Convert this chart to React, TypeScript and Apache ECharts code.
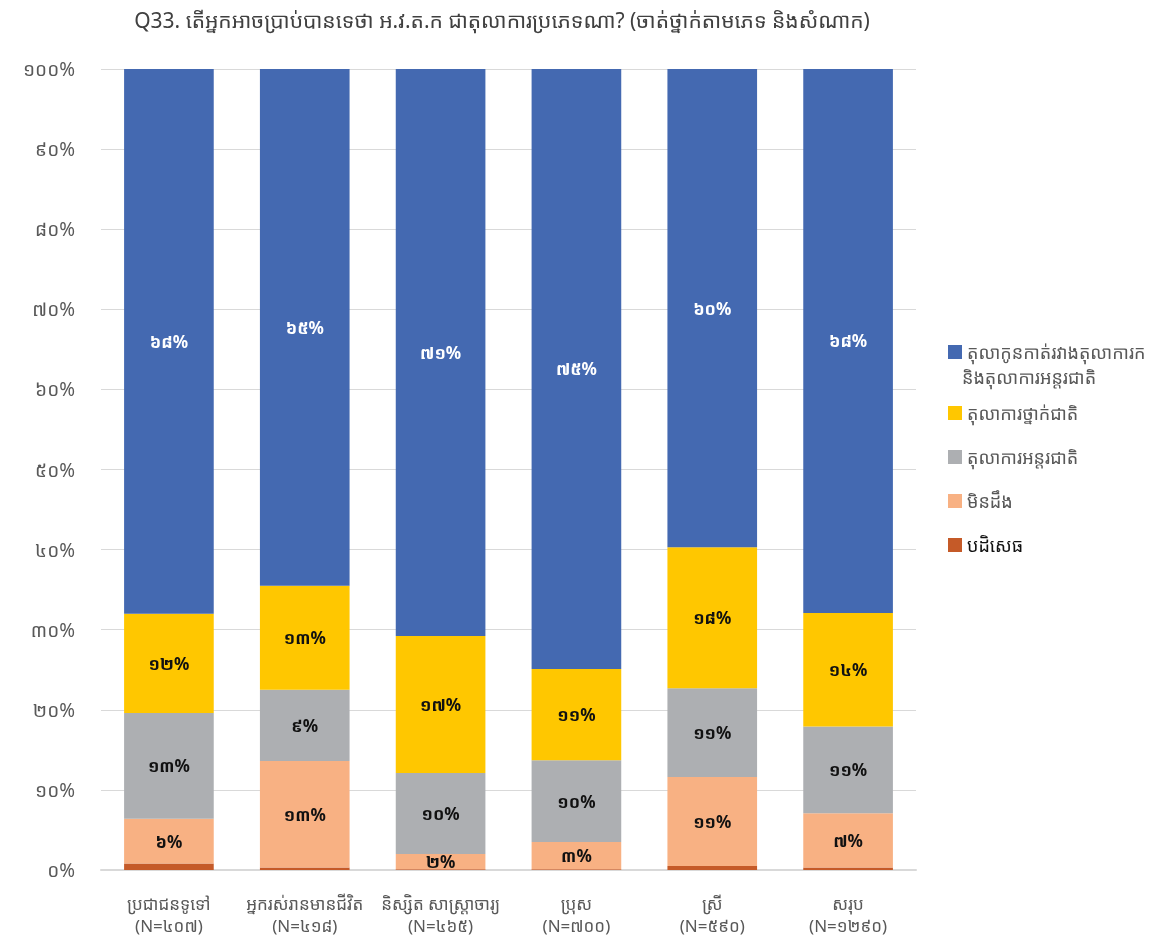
import React, { useEffect, useRef } from "react";
import * as echarts from "echarts";

const categories = [
  "ប្រជាជនទូទៅ\n(N=៤០៧)",
  "អ្នករស់រានមានជីវិត\n(N=៤១៨)",
  "និស្សិត សាស្ត្រាចារ្យ\n(N=៤៦៥)",
  "ប្រុស\n(N=៧០០)",
  "ស្រី\n(N=៥៩០)",
  "សរុប\n(N=១២៩០)",
];

const seriesNames = [
  "តុលាកូនកាត់រវាងតុលាការក\nនិងតុលាការអន្តរជាតិ",
  "តុលាការថ្នាក់ជាតិ",
  "តុលាការអន្តរជាតិ",
  "មិនដឹង",
  "បដិសេធ",
];

const hybridValues = [68.0, 64.5, 70.8, 74.9, 59.7, 67.9];
const nationalValues = [12.4, 13.0, 17.1, 11.4, 17.6, 14.2];
const internationalValues = [13.2, 8.9, 10.1, 10.2, 11.1, 10.8];
const dontKnowValues = [5.6, 13.3, 1.9, 3.4, 11.1, 6.8];
const refuseValues = [0.8, 0.3, 0.1, 0.1, 0.5, 0.3];

const yTicks = [0, 10, 20, 30, 40, 50, 60, 70, 80, 90, 100];

const colors = ["#4469B1", "#FFC700", "#ADAFB2", "#F8B183", "#C55A28"];

const FONT = '"Noto Sans Khmer", "Khmer OS", "Noto Sans", Roboto, sans-serif';

const khmerDigits = "០១២៣៤៥៦៧៨៩";
const toKhmer = (n: number) =>
  String(n).replace(/[0-9]/g, (d) => khmerDigits[Number(d)]);

export default function App() {
  const ref = useRef<HTMLDivElement>(null);
  useEffect(() => {
    if (!ref.current) return;
    const chart = echarts.init(ref.current, null, { renderer: "svg" });
    const values = [refuseValues, dontKnowValues, internationalValues, nationalValues, hybridValues];
    const names = [seriesNames[4], seriesNames[3], seriesNames[2], seriesNames[1], seriesNames[0]];
    const cols = [colors[4], colors[3], colors[2], colors[1], colors[0]];
    const series = values.map((v, i) => ({
      name: names[i],
      type: "bar",
      stack: "total",
      barWidth: "66%",
      data: v,
      itemStyle: { color: cols[i] },
      label: {
        show: i !== 0,
        position: "inside",
        fontFamily: FONT,
        fontSize: 17,
        fontWeight: "bold",
        color: i === 4 ? "#FFFFFF" : "#111111",
        formatter: (p: any) => toKhmer(Math.round(p.value)) + "%",
      },
    }));
    const legendText = { fontFamily: FONT, fontSize: 18, lineHeight: 24 };
    chart.setOption({
      animation: false,
      title: {
        text: "Q33. តើអ្នកអាចប្រាប់បានទេថា អ.វ.ត.ក ជាតុលាការប្រភេទណា? (ចាត់ថ្នាក់តាមភេទ និងសំណាក)",
        left: 497,
        textAlign: "center",
        top: 4,
        textStyle: { fontFamily: FONT, fontSize: 21, fontWeight: "normal", color: "#404040" },
      },
      grid: { left: 101, right: 234, top: 69, bottom: 68 },
      legend: [
        {
          orient: "vertical",
          left: 943,
          top: 335,
          itemWidth: 14,
          itemHeight: 14,
          icon: "rect",
          data: [{ name: seriesNames[0], textStyle: { color: "#595959" } }],
          formatter: (n: string) => n.split("\n")[0],
          textStyle: legendText,
        },
        {
          orient: "vertical",
          left: 943,
          top: 396,
          itemWidth: 14,
          itemHeight: 14,
          itemGap: 20,
          icon: "rect",
          data: seriesNames.slice(1).map((n, i) => ({
            name: n,
            textStyle: { color: i === 3 ? "#111111" : "#595959" },
          })),
          textStyle: legendText,
        },
      ],
      graphic: [
        {
          type: "text",
          x: 962,
          y: 377,
          style: {
            text: seriesNames[0].split("\n")[1],
            fontFamily: FONT,
            fontSize: 18,
            fill: "#595959",
            verticalAlign: "middle",
            align: "left",
          },
        },
      ],
      xAxis: {
        type: "category",
        data: categories,
        axisLine: { lineStyle: { color: "#D9D9D9", width: 2 } },
        axisTick: { show: false },
        axisLabel: {
          interval: 0,
          fontFamily: FONT,
          fontSize: 17,
          color: "#595959",
          lineHeight: 22,
          margin: 22,
        },
      },
      yAxis: {
        type: "value",
        min: 0,
        max: 100,
        interval: 10,
        axisLine: { show: false },
        axisTick: { show: false },
        splitLine: { lineStyle: { color: "#D9D9D9" } },
        axisLabel: {
          fontFamily: FONT,
          fontSize: 19,
          color: "#595959",
          margin: 26,
          formatter: (v: number) => (yTicks.includes(v) ? toKhmer(v) + "%" : ""),
        },
      },
      series,
    });
    return () => chart.dispose();
  }, []);
  return (
    <div
      ref={ref}
      style={{ position: "fixed", left: 0, top: 0, width: 1150, height: 938 }}
    />
  );
}
